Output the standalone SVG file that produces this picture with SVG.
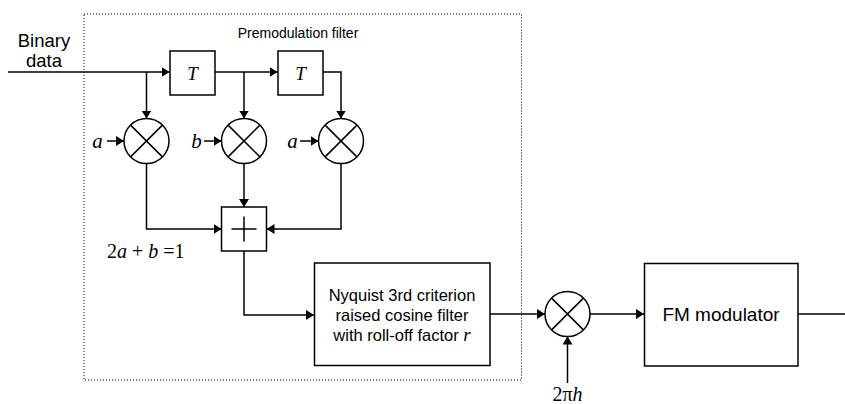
<svg xmlns="http://www.w3.org/2000/svg" width="845" height="404" viewBox="0 0 845 404">
<defs>
<style>
.ln{fill:none;stroke:#000;stroke-width:1.5}
.box{fill:#fff;stroke:#000;stroke-width:1.5}
.sans{font-family:"Liberation Sans",Arial,sans-serif;fill:#000}
.math{font-family:"Liberation Serif","Times New Roman",serif;font-style:italic;fill:#000}
.up{font-style:normal}
</style>
<marker id="ah" markerWidth="9" markerHeight="11" refX="8" refY="5" orient="auto" markerUnits="userSpaceOnUse">
<path d="M0,0 L8,5 L0,10 Z" fill="#000"/>
</marker>
</defs>
<rect width="845" height="404" fill="#fff"/>
<g id="premod-frame">
<rect x="84" y="14" width="437.5" height="366" fill="none" stroke="#000" stroke-width="1" stroke-dasharray="1 2"/>
<text class="sans" x="298" y="38" font-size="14" text-anchor="middle">Premodulation filter</text>
</g>
<g id="input-label">
<text class="sans" x="44" y="46.5" font-size="18.5" text-anchor="middle">Binary</text>
<text class="sans" x="44" y="67" font-size="18.5" text-anchor="middle">data</text>
</g>
<g id="connectors">
<path class="ln" d="M8,72 H169.5" marker-end="url(#ah)"/>
<path class="ln" d="M146.5,72 V118.5" marker-end="url(#ah)"/>
<path class="ln" d="M215,72 H277.5" marker-end="url(#ah)"/>
<path class="ln" d="M244,72 V118.5" marker-end="url(#ah)"/>
<path class="ln" d="M323,72 H341 V118.5" marker-end="url(#ah)"/>
<path class="ln" d="M107,141 H124" marker-end="url(#ah)"/>
<path class="ln" d="M204,141 H221.5" marker-end="url(#ah)"/>
<path class="ln" d="M300,141 H318.5" marker-end="url(#ah)"/>
<path class="ln" d="M146.5,163.5 V229 H221.5" marker-end="url(#ah)"/>
<path class="ln" d="M244,163.5 V207" marker-end="url(#ah)"/>
<path class="ln" d="M341,163.5 V229 H266.5" marker-end="url(#ah)"/>
<path class="ln" d="M244,251 V315 H314" marker-end="url(#ah)"/>
<path class="ln" d="M490,314 H545" marker-end="url(#ah)"/>
<path class="ln" d="M567.5,383 V336.5" marker-end="url(#ah)"/>
<path class="ln" d="M590,314 H644" marker-end="url(#ah)"/>
<path class="ln" d="M798,314 H845"/>
</g>
<g id="delay1">
<rect class="box" x="170" y="51" width="45" height="44"/>
<text class="math" x="192.5" y="79.5" font-size="19" text-anchor="middle">T</text>
</g>
<g id="delay2">
<rect class="box" x="278" y="51" width="45" height="44"/>
<text class="math" x="300.5" y="79.5" font-size="19" text-anchor="middle">T</text>
</g>
<g id="mult1">
<circle class="box" cx="146.5" cy="141" r="22.5"/>
<path class="ln" d="M130.6,125.1 L162.4,156.9 M162.4,125.1 L130.6,156.9"/>
<text class="math" x="97.5" y="147.5" font-size="21" text-anchor="middle">a</text>
</g>
<g id="mult2">
<circle class="box" cx="244" cy="141" r="22.5"/>
<path class="ln" d="M228.1,125.1 L259.9,156.9 M259.9,125.1 L228.1,156.9"/>
<text class="math" x="196.5" y="147.5" font-size="21" text-anchor="middle">b</text>
</g>
<g id="mult3">
<circle class="box" cx="341" cy="141" r="22.5"/>
<path class="ln" d="M325.1,125.1 L356.9,156.9 M356.9,125.1 L325.1,156.9"/>
<text class="math" x="292.5" y="147.5" font-size="21" text-anchor="middle">a</text>
</g>
<g id="sum">
<rect class="box" x="221.5" y="207" width="45" height="44"/>
<path class="ln" d="M231.5,229 H256.5 M244,216.5 V241.5"/>
<text class="math" x="107" y="257.5" font-size="20" xml:space="preserve"><tspan class="up">2</tspan>a<tspan class="up"> + </tspan>b<tspan class="up"> =1</tspan></text>
</g>
<g id="nyquist-filter">
<rect class="box" x="314.5" y="263" width="175.5" height="102.5"/>
<text class="sans" x="402" y="300.7" font-size="16.5" text-anchor="middle">Nyquist 3rd criterion</text>
<text class="sans" x="402" y="320.7" font-size="16.5" text-anchor="middle">raised cosine filter</text>
<text class="sans" x="402" y="340.7" font-size="16.5" text-anchor="middle">with roll-off factor <tspan class="math" font-size="19">r</tspan></text>
</g>
<g id="mult4">
<circle class="box" cx="567.5" cy="314" r="22.5"/>
<path class="ln" d="M551.6,298.1 L583.4,329.9 M583.4,298.1 L551.6,329.9"/>
<text class="math" x="567.5" y="401" font-size="20" text-anchor="middle"><tspan class="up">2π</tspan>h</text>
</g>
<g id="fm-modulator">
<rect class="box" x="644.5" y="263.5" width="153.5" height="102.5"/>
<text class="sans" x="721" y="321" font-size="19" text-anchor="middle">FM modulator</text>
</g>
</svg>
